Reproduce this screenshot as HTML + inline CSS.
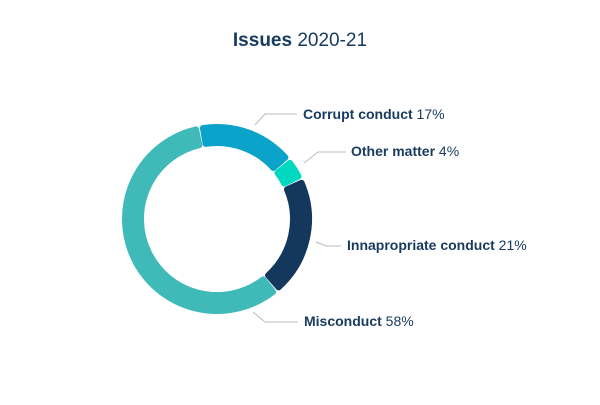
<!DOCTYPE html>
<html><head><meta charset="utf-8"><style>
body{margin:0;width:600px;height:400px;background:#fff;overflow:hidden}
text{font-family:"Liberation Sans Narrow","Liberation Sans",sans-serif;fill:#173a5e}
</style></head><body>
<svg width="600" height="400">
<text x="300" y="46" text-anchor="middle" font-size="19"><tspan font-weight="bold">Issues</tspan> 2020-21</text>
<g id="slices"></g>
<g id="labels"></g>
</svg>
<script>
const categories=["Corrupt conduct","Other matter","Innapropriate conduct","Misconduct"];
const values=[17,4,21,58];
const colors=["#0ba3c9","#00d8c0","#14385d","#40bab8"];
const cx=217,cy=219,R=95,r=73,start=-11,pad=1.6,round=3;
const labelPos=[[255,125,265,114,297,303,119],[304,163,318,152,346,351,156],[316,242,326,246,341,347,250],[253,312,265,322,298,304,326]];
const total=values.reduce((a,b)=>a+b,0);
function pt(rad,deg){const a=(deg-90)*Math.PI/180;return [cx+rad*Math.cos(a),cy+rad*Math.sin(a)];}
const ns="http://www.w3.org/2000/svg";
let acc=start;
const gs=document.getElementById('slices'),gl=document.getElementById('labels');
values.forEach((v,i)=>{
 const a0=acc+pad,a1=acc+v/total*360-pad;acc+=v/total*360;
 const Ro=R-round,Ri=r+round;
 const big=(a1-a0)>180?1:0;
 const p1=pt(Ro,a0+0.6),p2=pt(Ro,a1-0.6),p3=pt(Ri,a1-0.8),p4=pt(Ri,a0+0.8);
 const d=`M${p1}A${Ro},${Ro} 0 ${big} 1 ${p2}L${p3}A${Ri},${Ri} 0 ${big} 0 ${p4}Z`;
 const p=document.createElementNS(ns,'path');
 p.setAttribute('d',d);p.setAttribute('fill',colors[i]);p.setAttribute('stroke',colors[i]);
 p.setAttribute('stroke-width',round*2);p.setAttribute('stroke-linejoin','round');
 
 
 gs.appendChild(p);
 const L=labelPos[i];
 const pl=document.createElementNS(ns,'polyline');
 pl.setAttribute('points',`${L[0]},${L[1]} ${L[2]},${L[3]} ${L[4]},${L[3]}`);
 pl.setAttribute('fill','none');pl.setAttribute('stroke','#bbb');pl.setAttribute('stroke-width','1');
 
 
 gl.appendChild(pl);
 const t=document.createElementNS(ns,'text');
 t.setAttribute('x',L[5]);t.setAttribute('y',L[6]);t.setAttribute('font-size','14');
 t.innerHTML=`<tspan font-weight="bold">${categories[i]}</tspan> ${values[i]}%`;
 
 
 gl.appendChild(t);
});
</script>
</body></html>
